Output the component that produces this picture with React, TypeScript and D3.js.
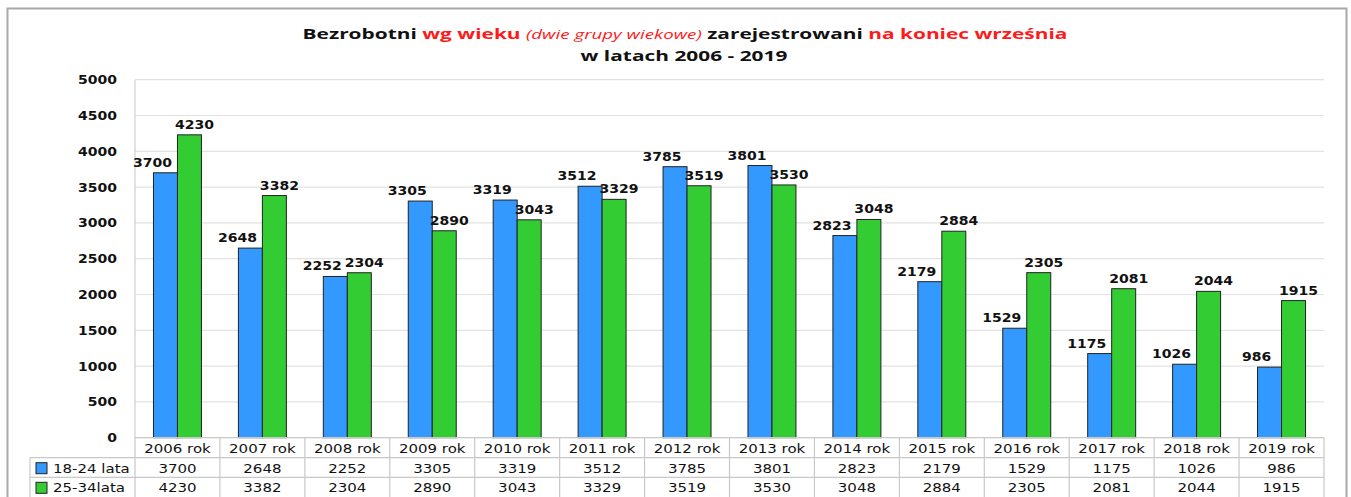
import React from "react";
import { scaleLinear, scaleBand, range } from "d3";

const years = ["2006 rok", "2007 rok", "2008 rok", "2009 rok", "2010 rok", "2011 rok", "2012 rok", "2013 rok", "2014 rok", "2015 rok", "2016 rok", "2017 rok", "2018 rok", "2019 rok"];
const young = [3700, 2648, 2252, 3305, 3319, 3512, 3785, 3801, 2823, 2179, 1529, 1175, 1026, 986];
const older = [4230, 3382, 2304, 2890, 3043, 3329, 3519, 3530, 3048, 2884, 2305, 2081, 2044, 1915];
const seriesNames = ["18-24 lata", "25-34lata"];
const yTicks = [0, 500, 1000, 1500, 2000, 2500, 3000, 3500, 4000, 4500, 5000];

const W = 1351;
const H = 497;
const left = 135;
const right = 1324;
const top = 79.7;
const bottom = 437.7;
const colors = ["#3399FF", "#33CC33"];
const font = "'DejaVu Sans', Verdana, sans-serif";

// text stretched horizontally like the source picture
const SText = ({ x, y, sx = 1.17, anchor = "middle", size = 12, bold = false, children }: any) => (
  <text
    transform={`translate(${x},${y}) scale(${sx},1)`}
    textAnchor={anchor}
    fontFamily={font}
    fontWeight={bold ? "bold" : "normal"}
    fontSize={size}
    fill="#111"
  >
    {children}
  </text>
);

export default function App() {
  const y = scaleLinear().domain([0, 5000]).range([bottom, top]);
  const x = scaleBand().domain(years).range([left, right]);
  const inner = scaleBand()
    .domain(["0", "1"])
    .range([0, x.bandwidth()])
    .paddingInner(0)
    .paddingOuter(0.77);

  const series = [young, older];
  const rowTop = [437.7, 457.7, 477.3, 497];
  const labelShift = [-13, 5];

  const bars = series.map((vals, si) =>
    vals.map((v, i) => {
      const bx = x(years[i])! + inner(String(si))!;
      return (
        <g key={`${si}-${i}`}>
          <rect
            x={bx}
            y={y(v)}
            width={inner.bandwidth()}
            height={bottom - y(v)}
            fill={colors[si]}
            stroke="#222"
            strokeWidth={1}
          />
          <SText x={bx + inner.bandwidth() / 2 + labelShift[si]} y={y(v) - 6} bold>
            {v}
          </SText>
        </g>
      );
    })
  );

  return (
    <svg width={W} height={H} style={{ position: "absolute", left: 0, top: 0, background: "#fff" }}>
      <rect x={7.5} y={8.5} width={1339} height={500} fill="#fff" stroke="#a8a8a8" strokeWidth={2} />

      <g transform="translate(685,39) scale(1.44,1)">
        <text textAnchor="middle" fontFamily="'Open Sans', sans-serif" fontWeight="bold" fontSize={14.5} fill="#111">
          <tspan>Bezrobotni </tspan>
          <tspan fill="#ff1a1a">wg wieku </tspan>
          <tspan fill="#ff1a1a" fontStyle="italic" fontSize={13} fontWeight="normal">(dwie grupy wiekowe)</tspan>
          <tspan> zarejestrowani </tspan>
          <tspan fill="#ff1a1a">na koniec września</tspan>
        </text>
      </g>
      <g transform="translate(684,60.5) scale(1.44,1)">
        <text textAnchor="middle" fontFamily="'Open Sans', sans-serif" fontWeight="bold" fontSize={14.5} fill="#111">
          w latach 2006 - 2019
        </text>
      </g>

      {yTicks.map((t) => (
        <g key={t}>
          {t > 0 && <line x1={left} x2={right} y1={y(t)} y2={y(t)} stroke="#e2e2e2" strokeWidth={1.2} />}
          <SText x={117} y={y(t) + 4.5} anchor="end" bold>
            {t}
          </SText>
        </g>
      ))}
      <line x1={left} x2={left} y1={top} y2={bottom} stroke="#d0d0d0" strokeWidth={1.2} />

      {bars}

      {/* data table */}
      <g stroke="#c8c8c8" strokeWidth={1.2}>
        <line x1={left} x2={right} y1={rowTop[0]} y2={rowTop[0]} />
        <line x1={30} x2={right} y1={rowTop[1]} y2={rowTop[1]} />
        <line x1={30} x2={right} y1={rowTop[2]} y2={rowTop[2]} />
        <line x1={30} x2={30} y1={rowTop[1]} y2={H} />
        {range(years.length + 1).map((i) => {
          const lx = i < years.length ? x(years[i])! : right;
          return <line key={i} x1={lx} x2={lx} y1={rowTop[0]} y2={H} />;
        })}
      </g>
      {years.map((yr, i) => (
        <SText key={yr} x={x(yr)! + x.bandwidth() / 2} y={rowTop[0] + 15} sx={1.2} size={12.5}>
          {yr}
        </SText>
      ))}
      {series.map((vals, si) => (
        <g key={si}>
          <rect x={36} y={rowTop[si + 1] + 5} width={11} height={11} fill={colors[si]} stroke="#222" strokeWidth={1} />
          <SText x={53} y={rowTop[si + 1] + 15} anchor="start" sx={1.2} size={12.5}>
            {seriesNames[si]}
          </SText>
          {vals.map((v, i) => (
            <SText key={i} x={x(years[i])! + x.bandwidth() / 2} y={rowTop[si + 1] + 15} sx={1.2} size={12.5}>
              {v}
            </SText>
          ))}
        </g>
      ))}
    </svg>
  );
}
